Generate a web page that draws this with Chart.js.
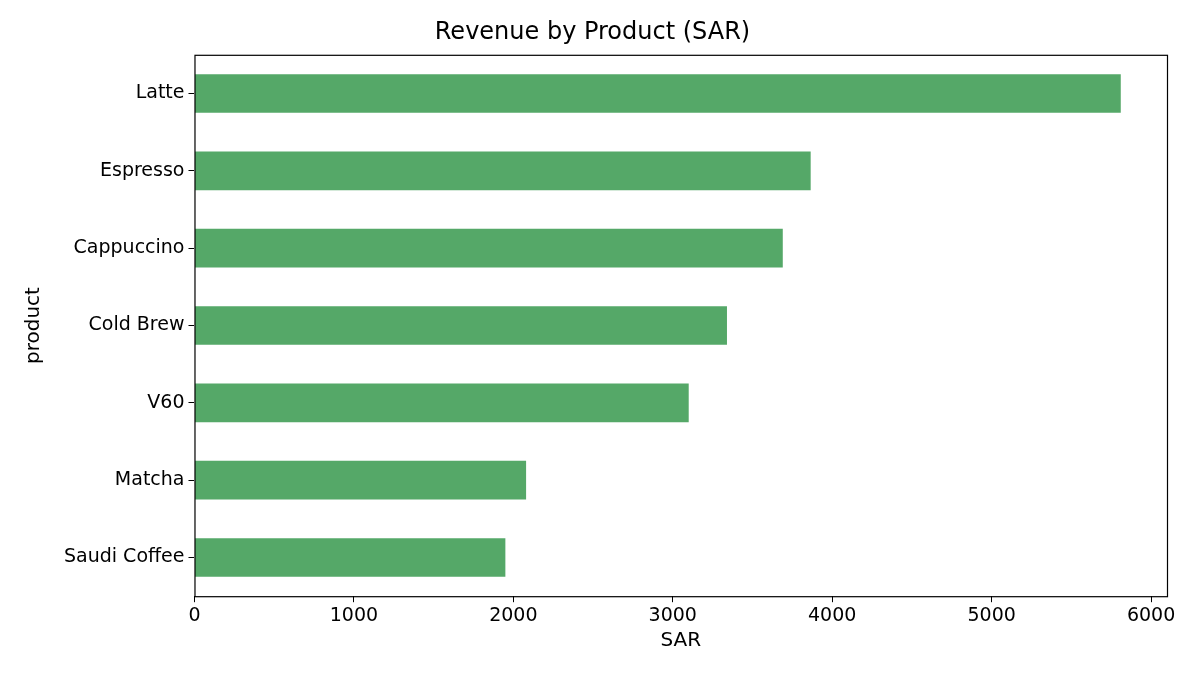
<!DOCTYPE html>
<html>
<head>
<meta charset="utf-8">
<script src="https://cdn.jsdelivr.net/npm/chart.js@4"></script>
<style>
  html, body { margin: 0; padding: 0; background: #fff; }
  #wrap { width: 1200px; height: 675px; }
</style>
</head>
<body>
<div id="wrap"><canvas id="revenueChart" width="1200" height="675"></canvas></div>
<script>
// Revenue by product
const products = ['Latte', 'Espresso', 'Cappuccino', 'Cold Brew', 'V60', 'Matcha', 'Saudi Coffee'];
const revenue = [5810, 3865, 3690, 3340, 3100, 2080, 1950];
const xTicks = [0, 1000, 2000, 3000, 4000, 5000, 6000];

// frame around the plot area, like matplotlib spines
const frame = {
  id: 'frame',
  afterDraw(chart) {
    const { ctx, chartArea: a } = chart;
    ctx.save();
    ctx.strokeStyle = '#000';
    ctx.lineWidth = 1.2;
    ctx.strokeRect(a.left + 0.5, a.top + 0.5, a.right - a.left, a.bottom - a.top);
    ctx.restore();
  }
};

Chart.defaults.font.family = 'DejaVu Sans';
Chart.defaults.color = '#000';

const ctx = document.getElementById('revenueChart').getContext('2d');
new Chart(ctx, {
  type: 'bar',
  data: {
    labels: products,
    datasets: [{
      label: 'SAR',
      data: revenue,
      backgroundColor: '#55a868',
      barPercentage: 0.5,
      categoryPercentage: 1.0
    }]
  },
  options: {
    indexAxis: 'y',
    responsive: false,
    animation: false,
    layout: { padding: { top: 0, right: 33, bottom: 18, left: 18 } },
    plugins: {
      legend: { display: false },
      tooltip: { enabled: false },
      title: {
        display: true,
        text: 'Revenue by Product (SAR)',
        font: { size: 24, weight: 'normal' },
        padding: { top: 18, bottom: 8 }
      }
    },
    scales: {
      x: {
        min: 0,
        max: 6100,
        afterBuildTicks(axis) { axis.ticks = xTicks.map(v => ({ value: v })); },
        ticks: { font: { size: 19 }, padding: 2, callback: v => String(v) },
        grid: { drawOnChartArea: false, tickLength: 6, color: '#000' },
        border: { display: false },
        title: { display: true, text: 'SAR', font: { size: 20 }, padding: { top: 0 } }
      },
      y: {
        ticks: { font: { size: 19 }, padding: 4 },
        grid: { drawOnChartArea: false, tickLength: 6, color: '#000', offset: false },
        border: { display: false },
        title: { display: true, text: 'product', font: { size: 20 }, padding: { bottom: 14 } }
      }
    }
  },
  plugins: [frame]
});
</script>
</body>
</html>
